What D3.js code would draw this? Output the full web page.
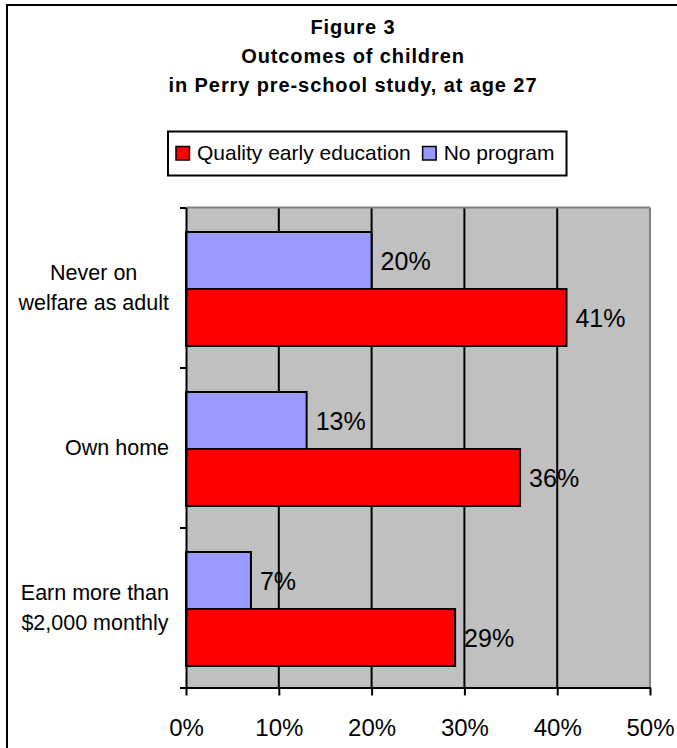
<!DOCTYPE html>
<html>
<head>
<meta charset="utf-8">
<script src="https://cdn.jsdelivr.net/npm/d3@7"></script>
<style>
  html, body { margin: 0; padding: 0; background: #ffffff; }
  svg { display: block; font-family: "Liberation Sans", Arial, sans-serif; }
</style>
</head>
<body>
<svg id="chart" width="677" height="748"></svg>
<script>
// ---- data ----
const titleLines = ["Figure 3", "Outcomes of children", "in Perry pre-school study, at age 27"];
const categories = ["Never on welfare as adult", "Own home", "Earn more than $2,000 monthly"];
const categoryLines = [["Never on", "welfare as adult"], ["Own home"], ["Earn more than", "$2,000 monthly"]];
const seriesNames = ["Quality early education", "No program"];
const qualityValues = [41, 36, 29];
const noProgramValues = [20, 13, 7];
const xTickValues = [0, 10, 20, 30, 40, 50];
const xTickLabels = ["0%", "10%", "20%", "30%", "40%", "50%"];
const seriesColors = ["#ff0000", "#9999ff"];

// ---- setup ----
const svg = d3.select("#chart");

// outer frame
svg.append("rect")
  .attr("x", 7).attr("y", 5).attr("width", 1000).attr("height", 1000)
  .attr("fill", "#ffffff").attr("stroke", "#000").attr("stroke-width", 2);

// title
const title = svg.append("text")
  .attr("text-anchor", "middle")
  .attr("font-weight", "bold")
  .attr("font-size", 20)
  .attr("letter-spacing", "0.9px")
  .attr("fill", "#000");
titleLines.forEach((t, i) => {
  title.append("tspan").attr("x", 353).attr("y", 34 + i * 29).text(t);
});

// scales
const plot = { left: 186, right: 650, top: 207.5, bottom: 687.5 };
const x = d3.scaleLinear().domain([0, 50]).range([plot.left, plot.right]);
const y = d3.scaleBand().domain(categories).range([plot.top, plot.bottom])
  .paddingInner(0.2875).paddingOuter(0.14375);
const sub = d3.scaleBand().domain(["No program", "Quality early education"]).range([0, y.bandwidth()]);
const colorOf = d3.scaleOrdinal().domain(seriesNames).range(seriesColors);

// legend
const legend = svg.append("g");
let lx = 176;
seriesNames.forEach((name) => {
  legend.append("rect")
    .attr("x", lx).attr("y", 146.5).attr("width", 13.5).attr("height", 13.5)
    .attr("fill", colorOf(name)).attr("stroke", "#000").attr("stroke-width", 1.5);
  const tx = legend.append("text")
    .attr("x", lx + 21).attr("y", 160)
    .attr("font-size", 21).attr("fill", "#000").text(name);
  const w = tx.node().getComputedTextLength();
  lx = lx + 21 + w + 12;
});
legend.insert("rect", ":first-child")
  .attr("x", 168).attr("y", 131.5).attr("width", lx - 168).attr("height", 44)
  .attr("fill", "#fff").attr("stroke", "#000").attr("stroke-width", 2);

// plot background
svg.append("rect")
  .attr("x", plot.left).attr("y", plot.top)
  .attr("width", plot.right - plot.left).attr("height", plot.bottom - plot.top)
  .attr("fill", "#c0c0c0");

// gridlines
svg.append("g").selectAll("line")
  .data(xTickValues.filter(v => v > 0 && v < 50))
  .join("line")
  .attr("x1", d => x(d)).attr("x2", d => x(d))
  .attr("y1", plot.top).attr("y2", plot.bottom)
  .attr("stroke", "#000").attr("stroke-width", 2);

// grey top and right border
svg.append("line")
  .attr("x1", plot.left).attr("x2", plot.right).attr("y1", plot.top).attr("y2", plot.top)
  .attr("stroke", "#808080").attr("stroke-width", 2);
svg.append("line")
  .attr("x1", plot.right).attr("x2", plot.right).attr("y1", plot.top).attr("y2", plot.bottom)
  .attr("stroke", "#808080").attr("stroke-width", 2);

// bars
const rows = [];
categories.forEach((c, i) => {
  rows.push({ cat: c, series: "No program", value: noProgramValues[i] });
  rows.push({ cat: c, series: "Quality early education", value: qualityValues[i] });
});

svg.append("g").attr("transform", "translate(0,1.5)").selectAll("rect")
  .data(rows)
  .join("rect")
  .attr("x", x(0))
  .attr("y", d => y(d.cat) + sub(d.series))
  .attr("width", d => x(d.value) - x(0))
  .attr("height", sub.bandwidth())
  .attr("fill", d => colorOf(d.series))
  .attr("stroke", "#000").attr("stroke-width", 2);

// data labels
svg.append("g").attr("transform", "translate(0,1.5)").selectAll("text")
  .data(rows)
  .join("text")
  .attr("x", d => x(d.value) + 9)
  .attr("y", d => y(d.cat) + sub(d.series) + sub.bandwidth() / 2 + 9)
  .attr("font-size", 25)
  .attr("fill", "#000")
  .text(d => d.value + "%");

// bottom axis
const xAxis = d3.axisBottom(x).tickValues(xTickValues)
  .tickFormat((d, i) => xTickLabels[i]).tickSize(8).tickSizeOuter(0).tickPadding(20);
const gx = svg.append("g").attr("transform", `translate(0,${plot.bottom})`).call(xAxis);
gx.select(".domain").attr("stroke", "#000").attr("stroke-width", 2);
gx.selectAll(".tick line").attr("stroke", "#000").attr("stroke-width", 2);
gx.selectAll(".tick text")
  .attr("font-size", 24).attr("font-family", "Liberation Sans, Arial, sans-serif")
  .attr("fill", "#000").attr("dy", null).attr("y", 48);

// left axis (ticks at band boundaries)
const yEdge = d3.scaleLinear().domain([0, categories.length]).range([plot.top, plot.bottom]);
const yAxis = d3.axisLeft(yEdge).tickValues(d3.range(categories.length + 1))
  .tickFormat("").tickSize(6).tickSizeOuter(0);
const gy = svg.append("g").attr("transform", `translate(${plot.left},0)`).call(yAxis);
gy.select(".domain").attr("stroke", "#000").attr("stroke-width", 2);
gy.selectAll(".tick line").attr("stroke", "#000").attr("stroke-width", 2);

// category labels: block right-aligned at 169, lines centred in block
const labelRight = 169;
categories.forEach((c, i) => {
  const lines = categoryLines[i];
  const g = svg.append("g");
  const center = y(c) + y.bandwidth() / 2;
  const texts = lines.map((ln, j) => g.append("text")
    .attr("font-size", 21.5).attr("fill", "#000")
    .attr("text-anchor", "middle")
    .attr("y", center + 7.5 + (j - (lines.length - 1) / 2) * 30)
    .text(ln));
  const maxW = d3.max(texts, t => t.node().getComputedTextLength());
  texts.forEach(t => t.attr("x", labelRight - maxW / 2));
});
</script>
</body>
</html>
